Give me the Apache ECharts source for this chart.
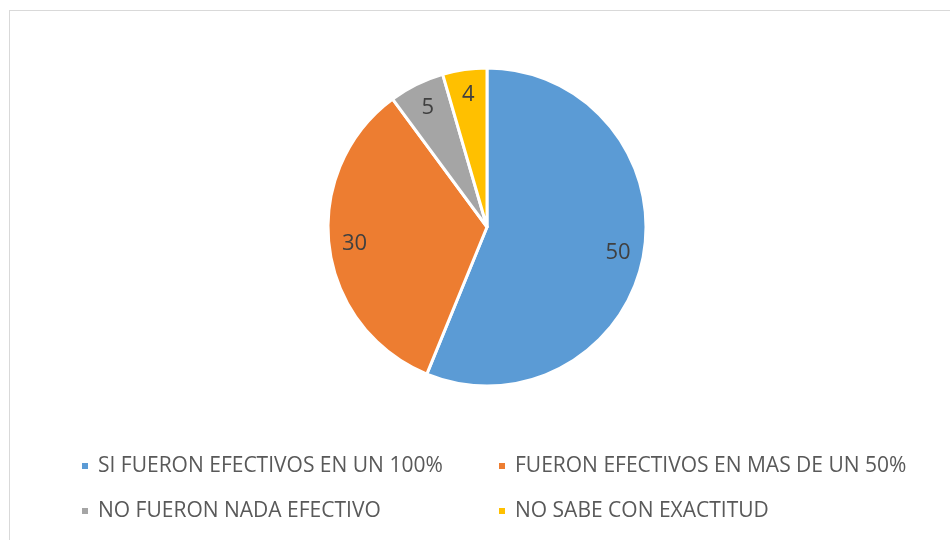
<!DOCTYPE html>
<html>
<head>
<meta charset="utf-8">
<script src="https://cdn.jsdelivr.net/npm/echarts@6/dist/echarts.min.js"></script>
<style>
  html, body { margin: 0; padding: 0; background: #fff; }
  .frame { position: absolute; left: 9px; top: 10px; width: 1000px; height: 600px; border: 1px solid #d9d9d9; }
  #chart { position: absolute; left: 0; top: 0; width: 950px; height: 540px; }
</style>
</head>
<body>
<div class="frame"></div>
<div id="chart"></div>
<script>
// categorias y valores
var categories = [
  'SI FUERON EFECTIVOS EN UN 100%',
  'FUERON EFECTIVOS EN MAS DE UN 50%',
  'NO FUERON NADA EFECTIVO',
  'NO SABE CON EXACTITUD'
];
var values = [50, 30, 5, 4];
var colors = ['#5B9BD5', '#ED7D31', '#A5A5A5', '#FFC000'];

var pieData = categories.map(function (name, i) {
  return { name: name, value: values[i], itemStyle: { color: colors[i] } };
});

var chart = echarts.init(document.getElementById('chart'));

var legendText = { fontFamily: 'Open Sans', fontSize: 21, lineHeight: 24, color: '#595959', padding: [0, 0, 0, 4] };

chart.setOption({
  animation: false,
  legend: [{
    data: [categories[0], categories[2]],
    orient: 'vertical',
    left: 80,
    top: 454,
    padding: 0,
    itemWidth: 8,
    itemHeight: 8,
    itemGap: 21,
    icon: 'rect',
    textStyle: legendText
  }, {
    data: [categories[1], categories[3]],
    orient: 'vertical',
    left: 497,
    top: 454,
    padding: 0,
    itemWidth: 8,
    itemHeight: 8,
    itemGap: 21,
    icon: 'rect',
    textStyle: legendText
  }],
  series: [{
    type: 'pie',
    center: [487, 227],
    radius: [0, 159],
    startAngle: 90,
    clockwise: true,
    data: pieData,
    itemStyle: { borderColor: '#fff', borderWidth: 3 },
    label: { show: false },
    labelLine: { show: false },
    emphasis: { disabled: true }
  }, {
    // serie transparente solo para colocar las etiquetas
    type: 'pie',
    center: [487, 227],
    radius: [102, 159],
    startAngle: 90,
    clockwise: true,
    silent: true,
    legendHoverLink: false,
    data: values.map(function (v, i) {
      return { name: categories[i] + ' ', value: v };
    }),
    itemStyle: { color: 'rgba(0,0,0,0)' },
    label: {
      show: true,
      position: 'inside',
      formatter: '{c}',
      fontFamily: 'Open Sans',
      fontSize: 22,
      color: '#404040'
    },
    labelLine: { show: false },
    emphasis: { disabled: true }
  }]
});
</script>
</body>
</html>
